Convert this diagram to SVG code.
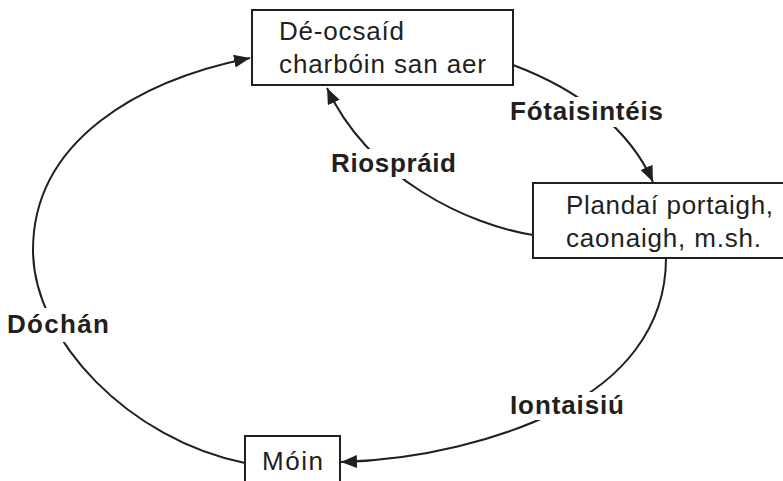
<svg xmlns="http://www.w3.org/2000/svg" width="783" height="481" viewBox="0 0 783 481">
<style>
.box{fill:#fff;stroke:#231f20;stroke-width:2}
.t{font-family:"Liberation Sans",Arial,sans-serif;font-size:26px;fill:#231f20}
.lbl{font-family:"Liberation Sans",Arial,sans-serif;font-size:26px;font-weight:bold;fill:#231f20}
.bg{fill:#fff}
.c{fill:none;stroke:#231f20;stroke-width:2;marker-end:url(#ah)}
</style>
<defs>
<marker id="ah" markerUnits="userSpaceOnUse" markerWidth="17" markerHeight="14" refX="16" refY="6.5" orient="auto">
<path d="M0,0 L16,6.5 L0,13 Z" fill="#231f20"/>
</marker>
</defs>
<rect width="783" height="481" fill="#fff"/>
<g id="connectors">
<path class="c" d="M513,65 C580,90 630,130 653,182"/>
<path class="c" d="M533,235 C470,225 370,180 327,88"/>
<path class="c" d="M666,258 C666,330 620,380 560,410 C500,440 420,460 341,462"/>
<path class="c" d="M245,463 C130,440 33,340 33,250 C33,140 140,80 250,58"/>
</g>
<g id="labels">
<rect class="bg" x="506" y="97" width="160" height="30"/>
<text class="lbl" x="510" y="120" textLength="153">Fótaisintéis</text>
<rect class="bg" x="328" y="149" width="132" height="30"/>
<text class="lbl" x="331" y="172" textLength="125">Riospráid</text>
<rect class="bg" x="4" y="308" width="108" height="34"/>
<text class="lbl" x="7" y="333" textLength="102">Dóchán</text>
<rect class="bg" x="506" y="392" width="122" height="28"/>
<text class="lbl" x="510" y="414" textLength="114">Iontaisiú</text>
</g>
<g id="node-co2">
<rect class="box" x="252" y="10" width="261" height="75"/>
<text class="t" x="279" y="40" textLength="125">Dé-ocsaíd</text>
<text class="t" x="279" y="73" textLength="207">charbóin san aer</text>
</g>
<g id="node-plants">
<rect class="box" x="533" y="183" width="262" height="75"/>
<text class="t" x="566" y="214" textLength="207">Plandaí portaigh,</text>
<text class="t" x="566" y="247" textLength="195">caonaigh, m.sh.</text>
</g>
<g id="node-moin">
<rect class="box" x="245" y="436" width="95" height="60"/>
<text class="t" x="262" y="470" textLength="61">Móin</text>
</g>
</svg>
